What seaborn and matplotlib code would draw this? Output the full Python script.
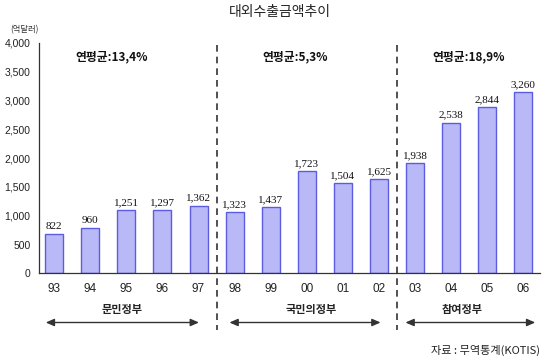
import matplotlib
matplotlib.use('Agg')
import matplotlib.pyplot as plt
import matplotlib.transforms as mtransforms
import seaborn as sns
import pandas as pd

# dados do gráfico
anos = ['93', '94', '95', '96', '97', '98', '99', '00', '01', '02', '03', '04', '05', '06']
alturas = [684, 788, 1096, 1100, 1177, 1066, 1148, 1774, 1576, 1635, 1913, 2619, 2880, 3141]  # altura desenhada
rotulos = ['822', '960', '1,251', '1,297', '1,362', '1,323', '1,437', '1,723', '1,504', '1,625',
           '1,938', '2,538', '2,844', '3,260']
governos = ['문민정부', '국민의정부', '참여정부']
medias = ['연평균:13,4%', '연평균:5,3%', '연평균:18,9%']
yticks = [0, 500, 1000, 1500, 2000, 2500, 3000, 3500, 4000]

df = pd.DataFrame({'ano': anos, 'valor': alturas})

sns.set_style('white')
plt.rcParams['font.family'] = ['Noto Sans CJK KR', 'DejaVu Sans']

fig = plt.figure(figsize=(5.49, 3.63), dpi=100)
ax = fig.add_axes([39 / 549, 1 - 273.3 / 363, 501 / 549, 230.3 / 363])

sns.barplot(data=df, x='ano', y='valor', order=anos, width=0.5, color='#b9b9f7',
            edgecolor='#5c5ce0', linewidth=1.0, saturation=1, ax=ax)

# rótulos de valor acima das barras
for i, (h, t) in enumerate(zip(alturas, rotulos)):
    ax.annotate(t, (i, h), xytext=(0, 2), textcoords='offset points', ha='center', va='bottom',
                fontsize=8, family='Liberation Serif', color='#111111')

ax.set_xlim(-0.42, 13.46)
ax.set_ylim(0, 4000)
ax.set_yticks(yticks)
ax.set_yticklabels([f'{v:,}' for v in yticks], family='Liberation Sans', fontsize=7.5, color='#222222')
ax.set_xticklabels(anos, family='Liberation Sans', fontsize=8.5, color='#222222')
ax.set_xlabel('')
ax.set_ylabel('')

ax.tick_params(axis='x', length=0, pad=7)
ax.tick_params(axis='y', direction='in', length=3.5, width=0.8, color='#444444', pad=6)
ax.set_xticks([i + 0.5 for i in range(len(anos) - 1)], minor=True)
ax.tick_params(axis='x', which='minor', direction='in', length=7, width=0.8, color='#444444')

for s in ['top', 'right']:
    ax.spines[s].set_visible(False)
for s in ['left', 'bottom']:
    ax.spines[s].set_color('#333333')
    ax.spines[s].set_linewidth(0.9)

# linhas tracejadas entre governos
trans = mtransforms.blended_transform_factory(ax.transData, fig.transFigure)
for x in [4.5, 9.5]:
    ax.plot([x, x], [1 - 45 / 363, 1 - 330 / 363], transform=trans, clip_on=False,
            color='#333333', linewidth=1.2, linestyle=(0, (4, 3)))

# setas dos governos
setas = [(43, 201.7), (226.7, 383.3), (402.7, 538)]
nomes_x = [122, 311, 462]
for (x0, x1), nome, nx in zip(setas, governos, nomes_x):
    fig.patches.append(matplotlib.patches.FancyArrowPatch(
        (x0 / 549, 1 - 322.5 / 363), (x1 / 549, 1 - 322.5 / 363), transform=fig.transFigure,
        arrowstyle='<|-|>,head_length=5,head_width=2.2', color='#333333', linewidth=1.0,
        mutation_scale=1))
    fig.text(nx / 549, 1 - 309 / 363, nome, ha='center', va='center', fontsize=8,
             fontweight='bold', color='#222222')

# médias anuais
for m, mx in zip(medias, [112, 295, 469]):
    fig.text(mx / 549, 1 - 57 / 363, m, ha='center', va='center', fontsize=8.5,
             fontweight='bold', color='#111111')

fig.text(280 / 549, 1 - 12 / 363, '대외수출금액추이', ha='center', va='center', fontsize=10, color='#222222')
fig.text(24 / 549, 1 - 30 / 363, '(억달러)', ha='center', va='center', fontsize=6, color='#333333')
fig.text(540 / 549, 1 - 350 / 363, '자료 : 무역통계(KOTIS)', ha='right', va='center', fontsize=8, color='#222222')

plt.savefig('out.png', dpi=100)
